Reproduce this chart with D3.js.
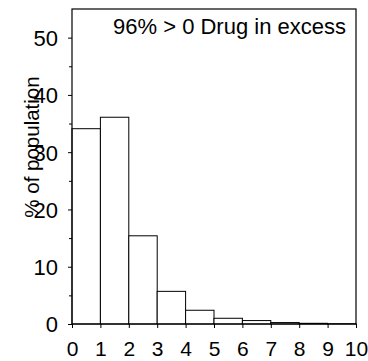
<!DOCTYPE html>
<html>
<head>
<meta charset="utf-8">
<script src="https://cdn.jsdelivr.net/npm/d3@7"></script>
<style>
  body { margin: 0; background: #fff; }
  text { font-family: Arial, "Liberation Sans", sans-serif; fill: #000; }
</style>
</head>
<body>
<svg id="chart" width="368" height="361"></svg>
<script>
const binStarts = [0, 1, 2, 3, 4, 5, 6, 7, 8, 9]
const percents = [34.1, 36.1, 15.4, 5.7, 2.4, 1.0, 0.6, 0.25, 0.12, 0.05]
const xTicks = [0, 1, 2, 3, 4, 5, 6, 7, 8, 9, 10]
const yTicks = [0, 10, 20, 30, 40, 50]
const yMinorTicks = [5, 15, 25, 35, 45]
const note = '96% > 0 Drug in excess'
const yTitle = '% of population'

const width = 368
const height = 361
const margin = { top: 9, right: 12, bottom: 37, left: 72 }

const x = d3.scaleLinear()
  .domain([0, 10])
  .range([margin.left, width - margin.right])

const y = d3.scaleLinear()
  .domain([0, 55])
  .range([height - margin.bottom, margin.top])

const svg = d3.select('#chart')

// bars
svg.append('g')
  .selectAll('rect')
  .data(binStarts)
  .join('rect')
  .attr('x', d => x(d))
  .attr('y', (d, i) => y(percents[i]))
  .attr('width', d => x(d + 1) - x(d))
  .attr('height', (d, i) => y(0) - y(percents[i]))
  .attr('fill', '#fff')
  .attr('stroke', '#000')
  .attr('stroke-width', 1)

// frame
svg.append('rect')
  .attr('x', x(0))
  .attr('y', y(55))
  .attr('width', x(10) - x(0))
  .attr('height', y(0) - y(55))
  .attr('fill', 'none')
  .attr('stroke', '#000')
  .attr('stroke-width', 1.2)

const yAxis = svg.append('g')
  .attr('transform', `translate(${x(0)},0)`)
  .call(d3.axisLeft(y).tickValues(yTicks).tickSize(4).tickPadding(10).tickFormat(d3.format('d')))

yAxis.select('.domain').remove()
yAxis.selectAll('text')
  .attr('font-size', 22)
  .attr('dy', '0.36em')

svg.append('g')
  .attr('transform', `translate(${x(0)},0)`)
  .call(d3.axisLeft(y).tickValues(yMinorTicks).tickSize(3).tickFormat(''))
  .call(g => g.select('.domain').remove())

const xAxis = svg.append('g')
  .attr('transform', `translate(0,${y(0)})`)
  .call(d3.axisBottom(x).tickValues(xTicks).tickSize(4).tickPadding(13).tickFormat(d3.format('d')))

xAxis.select('.domain').remove()
xAxis.selectAll('text')
  .attr('font-size', 21)

svg.selectAll('.tick line').attr('stroke', '#000')

svg.append('text')
  .attr('x', 346)
  .attr('y', 33.5)
  .attr('text-anchor', 'end')
  .attr('font-size', 22)
  .text(note)

svg.append('text')
  .attr('transform', `translate(39,147) rotate(-90)`)
  .attr('text-anchor', 'middle')
  .attr('font-size', 20.5)
  .text(yTitle)
</script>
</body>
</html>
